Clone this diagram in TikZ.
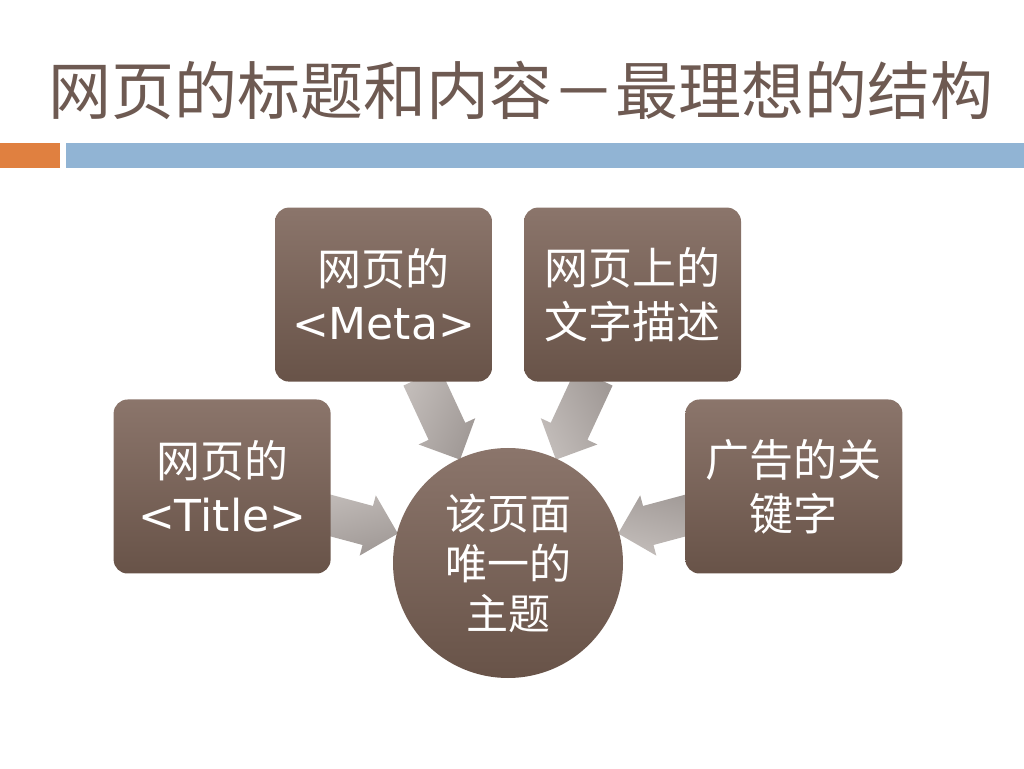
\documentclass[tikz,border=0pt]{standalone}
\usepackage{fontspec}
\setmainfont{DejaVu Sans}
\newfontfamily\cjk{Noto Sans CJK SC}
\usetikzlibrary{shapes.arrows, positioning, backgrounds}
\definecolor{headtext}{RGB}{110,90,82}
\definecolor{barorange}{RGB}{224,128,64}
\definecolor{barblue}{RGB}{145,180,212}
\definecolor{boxtop}{RGB}{139,117,107}
\definecolor{boxbottom}{RGB}{104,83,72}
\definecolor{arrowtop}{RGB}{194,188,185}
\definecolor{arrowbottom}{RGB}{160,153,150}
\tikzset{
  topicbox/.style={rounded corners=14pt, top color=boxtop, bottom color=boxbottom,
    minimum width=217pt, minimum height=174pt, text=white, align=center,
    font=\fontsize{44}{54}\selectfont},
  blockarrow/.style={single arrow, top color=arrowtop, bottom color=arrowbottom,
    shading angle=#1,
    minimum height=91pt, minimum width=62pt, inner xsep=0pt, inner ysep=20pt,
    single arrow head extend=11pt, sloped, allow upside down, pos=.427}
}
\begin{document}
\begin{tikzpicture}[x=1pt, y=1pt]
    \useasboundingbox (0,0) rectangle (1024,768);
    \node[anchor=base west, text=headtext, font=\cjk\fontsize{63}{70}\selectfont] (heading) at (45,653) {网页的标题和内容－最理想的结构};
    \fill[barorange] (0,600) rectangle (60,625);
    \fill[barblue] (66,600) rectangle (1024,625);

    \node[circle, top color=boxtop, bottom color=boxbottom, minimum size=230pt, inner sep=0pt,
      text=white, align=center, font=\cjk\fontsize{42}{50}\selectfont] (topic) at (508,205) {该页面\\唯一的\\主题};
    \node[topicbox, left=62pt of topic, yshift=76.5pt] (title) {{\cjk 网页的}\\<Title>};
    \node[topicbox, above=66pt of topic, xshift=-124.5pt] (meta) {{\cjk 网页的}\\<Meta>};
    \node[topicbox, above=66pt of topic, xshift=124.5pt, font=\cjk\fontsize{44}{54}\selectfont] (words) {网页上的\\文字描述};
    \node[topicbox, right=62pt of topic, yshift=76.5pt, font=\cjk\fontsize{44}{54}\selectfont] (ads) {广告的关\\键字};

    % arrows go under the boxes
    \begin{scope}[on background layer]
      \path (title.center) -- node[blockarrow=15] (arrtitle) {} (topic.center);
      \path (meta.center) -- node[blockarrow=65] (arrmeta) {} (topic.center);
      \path (words.center) -- node[blockarrow=115] (arrwords) {} (topic.center);
      \path (ads.center) -- node[blockarrow=165] (arrads) {} (topic.center);
    \end{scope}
\end{tikzpicture}
\end{document}
